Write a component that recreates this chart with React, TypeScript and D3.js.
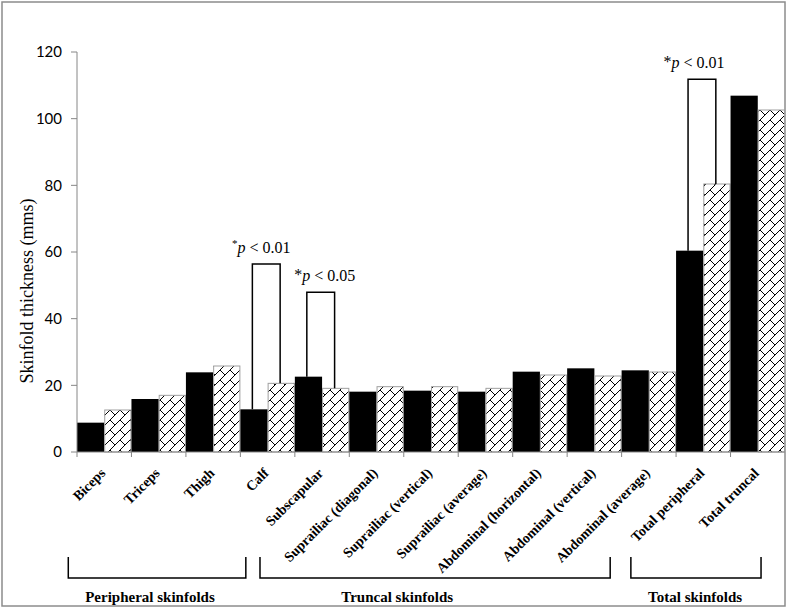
import React from "react";
import * as d3 from "d3";

const categories = [
  "Biceps",
  "Triceps",
  "Thigh",
  "Calf",
  "Subscapular",
  "Suprailiac (diagonal)",
  "Suprailiac (vertical)",
  "Suprailiac (average)",
  "Abdominal (horizontal)",
  "Abdominal (vertical)",
  "Abdominal (average)",
  "Total peripheral",
  "Total truncal",
];
const seriesSolid = [8.8, 15.9, 23.9, 12.8, 22.6, 18.1, 18.4, 18.1, 24.1, 25.1, 24.5, 60.4, 106.9];
const seriesHatched = [12.6, 17.0, 25.8, 20.6, 19.1, 19.6, 19.6, 19.1, 23.1, 22.8, 24.0, 80.4, 102.6];
const yTicks = [0, 20, 40, 60, 80, 100, 120];

// significance annotations: category index, bracket top value, label
const sigIndex = [3, 4, 11];
const sigTop = [56.4, 47.9, 111.8];
const sigText = ["p < 0.01", "p < 0.05", "p < 0.01"];
const sigSuperStar = [true, false, false];
const sigLabelShift = [-5, 4, -8];

// grouping brackets (in category-index units)
const groupLabels = ["Peripheral skinfolds", "Truncal skinfolds", "Total skinfolds"];
const groupStart = [-0.16, 3.36, 10.17];
const groupEnd = [3.1, 9.79, 12.56];
const groupLabelAt = [1.34, 5.88, 11.35];

const W = 789;
const H = 610;
const left = 77;
const right = 785;
const top = 52;
const bottom = 452;

export default function App() {
  const x = d3.scaleBand<string>().domain(categories).range([left, right]).paddingInner(0).paddingOuter(0);
  const y = d3.scaleLinear().domain([0, 120]).range([bottom, top]);
  const idx = d3.scaleLinear().domain([0, 1]).range([left, left + x.step()]);
  const bw = x.bandwidth() / 2;
  const serif = "'Liberation Serif', 'Times New Roman', serif";
  const gray = "#868686";

  return (
    <svg
      width={W}
      height={H}
      style={{ position: "absolute", left: 0, top: 0, background: "#fff" }}
    >
      <defs>
        <pattern id="brick" patternUnits="userSpaceOnUse" width={10} height={10}>
          <rect width={10} height={10} fill="#fff" />
          <path
            d="M0,10 L10,0 M0,0 L5,5 M-1,1 L1,-1 M9,11 L11,9"
            stroke="#000"
            strokeWidth={1}
            fill="none"
            shapeRendering="crispEdges"
          />
        </pattern>
      </defs>
      <rect x={2} y={2} width={783} height={604} fill="#fff" stroke="#8c8c8c" strokeWidth={1.5} />

      {/* bars */}
      {categories.map((c, i) => (
        <g key={c}>
          <rect
            x={x(c)!}
            y={y(seriesSolid[i])}
            width={bw}
            height={bottom - y(seriesSolid[i])}
            fill="#000"
          />
          <rect
            x={x(c)! + bw + 0.5}
            y={y(seriesHatched[i])}
            width={bw - 1}
            height={bottom - y(seriesHatched[i])}
            fill="url(#brick)"
            stroke="#a0a0a0"
            strokeWidth={1}
          />
        </g>
      ))}

      {/* axes */}
      <line x1={left} x2={left} y1={top} y2={bottom} stroke={gray} strokeWidth={1} />
      <line x1={left} x2={right} y1={bottom} y2={bottom} stroke={gray} strokeWidth={1} />
      {yTicks.map((t) => (
        <g key={t}>
          <line x1={left - 6} x2={left} y1={y(t)} y2={y(t)} stroke={gray} strokeWidth={1} />
          <text
            x={left - 15}
            y={y(t)}
            dy="0.35em"
            textAnchor="end"
            fontFamily="Lato, 'Liberation Sans', sans-serif"
            fontSize={15}
            fill="#000"
          >
            {t}
          </text>
        </g>
      ))}
      {categories.map((c, i) => (
        <line key={"t" + i} x1={x(c)!} x2={x(c)!} y1={bottom} y2={bottom + 5} stroke={gray} strokeWidth={1} />
      ))}

      {/* y title */}
      <text
        transform={`translate(33,291) rotate(-90)`}
        textAnchor="middle"
        fontFamily={serif}
        fontSize={18}
        fill="#000"
      >
        Skinfold thickness (mms)
      </text>

      {/* category labels */}
      {categories.map((c) => {
        const cx = x(c)! + x.bandwidth() / 2 + 2;
        const cy = 474;
        return (
          <text
            key={"l" + c}
            transform={`translate(${cx},${cy}) rotate(-45)`}
            textAnchor="end"
            fontFamily={serif}
            fontWeight="bold"
            fontSize={14}
            fill="#000"
          >
            {c}
          </text>
        );
      })}

      {/* significance brackets */}
      {sigIndex.map((ci, k) => {
        const c = categories[ci];
        const x1 = x(c)! + bw * 0.44;
        const x2 = x(c)! + bw * 1.46;
        const yt = y(sigTop[k]);
        return (
          <g key={"s" + k}>
            <path
              d={`M${x1},${y(seriesSolid[ci])} L${x1},${yt} L${x2},${yt} L${x2},${y(seriesHatched[ci])}`}
              fill="none"
              stroke="#000"
              strokeWidth={1.5}
            />
            <text
              x={(x1 + x2) / 2 + sigLabelShift[k]}
              y={yt - 11}
              textAnchor="middle"
              fontFamily={serif}
              fontSize={16}
              fill="#000"
            >
              {sigSuperStar[k] ? (
                <tspan fontSize={11} dy={-6}>*</tspan>
              ) : (
                <tspan dy={-1}>*</tspan>
              )}
              <tspan dy={sigSuperStar[k] ? 6 : 1} fontStyle="italic">p</tspan>
              <tspan>{sigText[k].slice(1)}</tspan>
            </text>
          </g>
        );
      })}

      {/* group brackets */}
      {groupLabels.map((g, k) => {
        const gx1 = idx(groupStart[k]);
        const gx2 = idx(groupEnd[k]);
        return (
          <g key={"g" + k}>
            <path
              d={`M${gx1},557 L${gx1},578 L${gx2},578 L${gx2},557`}
              fill="none"
              stroke="#000"
              strokeWidth={1.5}
            />
            <text
              x={idx(groupLabelAt[k])}
              y={602}
              textAnchor="middle"
              fontFamily={serif}
              fontWeight="bold"
              fontSize={15}
              fill="#000"
            >
              {g}
            </text>
          </g>
        );
      })}
    </svg>
  );
}
